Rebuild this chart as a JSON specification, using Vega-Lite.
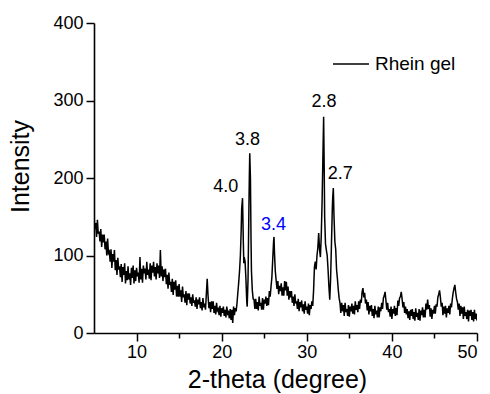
{
  "$schema": "https://vega.github.io/schema/vega-lite/v6.json",
  "width": 383,
  "height": 310,
  "autosize": {"type": "none"},
  "padding": {"left": 94, "top": 23, "right": 13, "bottom": 61},
  "background": "white",
  "config": {
    "view": {"stroke": null},
    "font": "Liberation Sans",
    "axis": {"grid": false, "domainColor": "black", "domainWidth": 1.6, "tickColor": "black", "tickWidth": 1.5, "labelColor": "black", "titleColor": "black", "labelFont": "Liberation Sans", "titleFont": "Liberation Sans", "labelFontSize": 18, "titleFontSize": 25, "titleFontWeight": "normal"}
  },
  "datasets": {
    "xrd": [
      {"t":5.0,"i":152},{"t":5.1,"i":134},{"t":5.2,"i":142},{"t":5.3,"i":124},{"t":5.4,"i":146},{"t":5.5,"i":128},{"t":5.6,"i":131},{"t":5.7,"i":118},{"t":5.8,"i":134},{"t":5.9,"i":111},
      {"t":6.0,"i":127},{"t":6.1,"i":117},{"t":6.2,"i":127},{"t":6.3,"i":108},{"t":6.4,"i":118},{"t":6.5,"i":100},{"t":6.6,"i":122},{"t":6.7,"i":103},{"t":6.8,"i":105},{"t":6.9,"i":92},
      {"t":7.0,"i":108},{"t":7.1,"i":84},{"t":7.2,"i":102},{"t":7.3,"i":92},{"t":7.4,"i":107},{"t":7.5,"i":81},{"t":7.6,"i":94},{"t":7.7,"i":75},{"t":7.8,"i":97},{"t":7.9,"i":82},
      {"t":8.0,"i":86},{"t":8.1,"i":72},{"t":8.2,"i":89},{"t":8.3,"i":66},{"t":8.4,"i":85},{"t":8.5,"i":75},{"t":8.6,"i":90},{"t":8.7,"i":64},{"t":8.8,"i":80},{"t":8.9,"i":68},
      {"t":9.0,"i":86},{"t":9.1,"i":69},{"t":9.2,"i":77},{"t":9.3,"i":62},{"t":9.4,"i":84},{"t":9.5,"i":71},{"t":9.6,"i":87},{"t":9.7,"i":64},{"t":9.8,"i":81},{"t":9.9,"i":67},
      {"t":10.0,"i":84},{"t":10.1,"i":73},{"t":10.2,"i":78},{"t":10.3,"i":65},{"t":10.4,"i":98},{"t":10.5,"i":69},{"t":10.6,"i":83},{"t":10.7,"i":65},{"t":10.8,"i":87},{"t":10.9,"i":77},
      {"t":11.0,"i":83},{"t":11.1,"i":69},{"t":11.2,"i":92},{"t":11.3,"i":75},{"t":11.4,"i":82},{"t":11.5,"i":70},{"t":11.6,"i":90},{"t":11.7,"i":68},{"t":11.8,"i":87},{"t":11.9,"i":78},
      {"t":12.0,"i":92},{"t":12.1,"i":73},{"t":12.2,"i":85},{"t":12.3,"i":69},{"t":12.4,"i":90},{"t":12.5,"i":77},{"t":12.6,"i":87},{"t":12.7,"i":71},{"t":12.8,"i":107},{"t":12.9,"i":73},
      {"t":13.0,"i":86},{"t":13.1,"i":67},{"t":13.2,"i":82},{"t":13.3,"i":72},{"t":13.4,"i":83},{"t":13.5,"i":63},{"t":13.6,"i":75},{"t":13.7,"i":57},{"t":13.8,"i":78},{"t":13.9,"i":62},
      {"t":14.0,"i":66},{"t":14.1,"i":53},{"t":14.2,"i":70},{"t":14.3,"i":49},{"t":14.4,"i":66},{"t":14.5,"i":56},{"t":14.6,"i":68},{"t":14.7,"i":47},{"t":14.8,"i":61},{"t":14.9,"i":47},
      {"t":15.0,"i":63},{"t":15.1,"i":47},{"t":15.2,"i":55},{"t":15.3,"i":40},{"t":15.4,"i":60},{"t":15.5,"i":46},{"t":15.6,"i":50},{"t":15.7,"i":39},{"t":15.8,"i":54},{"t":15.9,"i":36},
      {"t":16.0,"i":51},{"t":16.1,"i":43},{"t":16.2,"i":51},{"t":16.3,"i":38},{"t":16.4,"i":46},{"t":16.5,"i":35},{"t":16.6,"i":50},{"t":16.7,"i":39},{"t":16.8,"i":42},{"t":16.9,"i":34},
      {"t":17.0,"i":46},{"t":17.1,"i":31},{"t":17.2,"i":43},{"t":17.3,"i":37},{"t":17.4,"i":46},{"t":17.5,"i":32},{"t":17.6,"i":40},{"t":17.7,"i":29},{"t":17.8,"i":45},{"t":17.9,"i":33},
      {"t":18.0,"i":38},{"t":18.1,"i":30},{"t":18.2,"i":50},{"t":18.3,"i":70},{"t":18.4,"i":48},{"t":18.5,"i":32},{"t":18.6,"i":40},{"t":18.7,"i":27},{"t":18.8,"i":41},{"t":18.9,"i":31},
      {"t":19.0,"i":41},{"t":19.1,"i":26},{"t":19.2,"i":35},{"t":19.3,"i":24},{"t":19.4,"i":39},{"t":19.5,"i":29},{"t":19.6,"i":31},{"t":19.7,"i":23},{"t":19.8,"i":35},{"t":19.9,"i":21},
      {"t":20.0,"i":32},{"t":20.1,"i":26},{"t":20.2,"i":34},{"t":20.3,"i":22},{"t":20.4,"i":30},{"t":20.5,"i":20},{"t":20.6,"i":34},{"t":20.7,"i":25},{"t":20.8,"i":27},{"t":20.9,"i":19},
      {"t":21.0,"i":31},{"t":21.1,"i":17},{"t":21.2,"i":30},{"t":21.3,"i":13},{"t":21.4,"i":34},{"t":21.5,"i":23},{"t":21.6,"i":32},{"t":21.7,"i":28},{"t":21.8,"i":38},{"t":21.9,"i":52},
      {"t":22.0,"i":65},{"t":22.1,"i":80},{"t":22.2,"i":100},{"t":22.3,"i":135},{"t":22.35,"i":160},{"t":22.45,"i":174},{"t":22.55,"i":115},{"t":22.6,"i":90},{"t":22.65,"i":98},{"t":22.75,"i":92},
      {"t":22.85,"i":70},{"t":22.95,"i":40},{"t":23.0,"i":34},{"t":23.1,"i":70},{"t":23.2,"i":160},{"t":23.25,"i":200},{"t":23.3,"i":232},{"t":23.38,"i":200},{"t":23.45,"i":120},{"t":23.5,"i":80},
      {"t":23.6,"i":55},{"t":23.7,"i":44},{"t":23.8,"i":43},{"t":23.9,"i":31},{"t":24.0,"i":44},{"t":24.1,"i":31},{"t":24.2,"i":40},{"t":24.3,"i":29},{"t":24.4,"i":47},{"t":24.5,"i":35},
      {"t":24.6,"i":39},{"t":24.7,"i":30},{"t":24.8,"i":45},{"t":24.9,"i":30},{"t":25.0,"i":43},{"t":25.1,"i":38},{"t":25.2,"i":47},{"t":25.3,"i":35},{"t":25.4,"i":45},{"t":25.5,"i":36},
      {"t":25.6,"i":54},{"t":25.7,"i":47},{"t":25.8,"i":60},{"t":25.9,"i":72},{"t":26.0,"i":95},{"t":26.1,"i":118},{"t":26.15,"i":124},{"t":26.2,"i":105},{"t":26.3,"i":80},{"t":26.4,"i":68},
      {"t":26.5,"i":57},{"t":26.6,"i":67},{"t":26.7,"i":50},{"t":26.8,"i":61},{"t":26.9,"i":54},{"t":27.0,"i":64},{"t":27.1,"i":48},{"t":27.2,"i":59},{"t":27.3,"i":48},{"t":27.4,"i":67},
      {"t":27.5,"i":55},{"t":27.6,"i":66},{"t":27.7,"i":48},{"t":27.8,"i":60},{"t":27.9,"i":43},{"t":28.0,"i":54},{"t":28.1,"i":46},{"t":28.2,"i":54},{"t":28.3,"i":39},{"t":28.4,"i":47},
      {"t":28.5,"i":35},{"t":28.6,"i":50},{"t":28.7,"i":38},{"t":28.8,"i":41},{"t":28.9,"i":31},{"t":29.0,"i":44},{"t":29.1,"i":28},{"t":29.2,"i":40},{"t":29.3,"i":33},{"t":29.4,"i":42},
      {"t":29.5,"i":28},{"t":29.6,"i":37},{"t":29.7,"i":25},{"t":29.8,"i":41},{"t":29.9,"i":30},{"t":30.0,"i":34},{"t":30.1,"i":25},{"t":30.2,"i":38},{"t":30.3,"i":23},{"t":30.4,"i":36},
      {"t":30.5,"i":31},{"t":30.6,"i":41},{"t":30.7,"i":35},{"t":30.8,"i":55},{"t":30.9,"i":85},{"t":31.0,"i":92},{"t":31.1,"i":82},{"t":31.2,"i":100},{"t":31.3,"i":110},{"t":31.4,"i":129},
      {"t":31.5,"i":108},{"t":31.6,"i":98},{"t":31.7,"i":125},{"t":31.8,"i":170},{"t":31.9,"i":230},{"t":31.98,"i":279},{"t":32.05,"i":210},{"t":32.1,"i":150},{"t":32.2,"i":115},{"t":32.3,"i":107},
      {"t":32.4,"i":100},{"t":32.5,"i":82},{"t":32.6,"i":60},{"t":32.7,"i":43},{"t":32.8,"i":70},{"t":32.9,"i":115},{"t":33.0,"i":160},{"t":33.05,"i":175},{"t":33.12,"i":187},{"t":33.2,"i":150},
      {"t":33.3,"i":118},{"t":33.4,"i":108},{"t":33.5,"i":82},{"t":33.6,"i":70},{"t":33.7,"i":56},{"t":33.8,"i":45},{"t":33.9,"i":39},{"t":34.0,"i":26},{"t":34.1,"i":39},{"t":34.2,"i":28},
      {"t":34.3,"i":36},{"t":34.4,"i":22},{"t":34.5,"i":39},{"t":34.6,"i":27},{"t":34.7,"i":31},{"t":34.8,"i":22},{"t":34.9,"i":36},{"t":35.0,"i":21},{"t":35.1,"i":34},{"t":35.2,"i":28},
      {"t":35.3,"i":38},{"t":35.4,"i":25},{"t":35.5,"i":35},{"t":35.6,"i":24},{"t":35.7,"i":41},{"t":35.8,"i":30},{"t":35.9,"i":36},{"t":36.0,"i":27},{"t":36.1,"i":41},{"t":36.2,"i":31},
      {"t":36.3,"i":43},{"t":36.4,"i":39},{"t":36.5,"i":53},{"t":36.6,"i":58},{"t":36.7,"i":46},{"t":36.8,"i":52},{"t":36.9,"i":38},{"t":37.0,"i":43},{"t":37.1,"i":29},{"t":37.2,"i":40},
      {"t":37.3,"i":24},{"t":37.4,"i":35},{"t":37.5,"i":28},{"t":37.6,"i":36},{"t":37.7,"i":22},{"t":37.8,"i":31},{"t":37.9,"i":19},{"t":38.0,"i":35},{"t":38.1,"i":24},{"t":38.2,"i":29},
      {"t":38.3,"i":20},{"t":38.4,"i":34},{"t":38.5,"i":20},{"t":38.6,"i":33},{"t":38.7,"i":28},{"t":38.8,"i":39},{"t":38.9,"i":31},{"t":39.0,"i":45},{"t":39.1,"i":48},{"t":39.2,"i":53},
      {"t":39.3,"i":42},{"t":39.4,"i":30},{"t":39.5,"i":39},{"t":39.6,"i":27},{"t":39.7,"i":31},{"t":39.8,"i":21},{"t":39.9,"i":34},{"t":40.0,"i":18},{"t":40.1,"i":31},{"t":40.2,"i":25},
      {"t":40.3,"i":35},{"t":40.4,"i":22},{"t":40.5,"i":32},{"t":40.6,"i":23},{"t":40.7,"i":42},{"t":40.8,"i":35},{"t":40.9,"i":45},{"t":41.0,"i":47},{"t":41.1,"i":53},{"t":41.2,"i":44},
      {"t":41.3,"i":33},{"t":41.4,"i":40},{"t":41.5,"i":26},{"t":41.6,"i":34},{"t":41.7,"i":24},{"t":41.8,"i":31},{"t":41.9,"i":19},{"t":42.0,"i":28},{"t":42.1,"i":17},{"t":42.2,"i":30},
      {"t":42.3,"i":22},{"t":42.4,"i":31},{"t":42.5,"i":18},{"t":42.6,"i":27},{"t":42.7,"i":16},{"t":42.8,"i":32},{"t":42.9,"i":21},{"t":43.0,"i":26},{"t":43.1,"i":17},{"t":43.2,"i":31},
      {"t":43.3,"i":16},{"t":43.4,"i":29},{"t":43.5,"i":23},{"t":43.6,"i":33},{"t":43.7,"i":20},{"t":43.8,"i":30},{"t":43.9,"i":20},{"t":44.0,"i":38},{"t":44.1,"i":30},{"t":44.2,"i":43},
      {"t":44.3,"i":31},{"t":44.4,"i":36},{"t":44.5,"i":21},{"t":44.6,"i":32},{"t":44.7,"i":18},{"t":44.8,"i":30},{"t":44.9,"i":25},{"t":45.0,"i":35},{"t":45.1,"i":25},{"t":45.2,"i":37},
      {"t":45.3,"i":34},{"t":45.4,"i":46},{"t":45.5,"i":50},{"t":45.6,"i":55},{"t":45.7,"i":46},{"t":45.8,"i":34},{"t":45.9,"i":39},{"t":46.0,"i":23},{"t":46.1,"i":34},{"t":46.2,"i":25},
      {"t":46.3,"i":35},{"t":46.4,"i":20},{"t":46.5,"i":32},{"t":46.6,"i":26},{"t":46.7,"i":35},{"t":46.8,"i":24},{"t":46.9,"i":38},{"t":47.0,"i":33},{"t":47.1,"i":44},{"t":47.2,"i":52},
      {"t":47.3,"i":58},{"t":47.4,"i":62},{"t":47.5,"i":52},{"t":47.6,"i":44},{"t":47.7,"i":40},{"t":47.8,"i":30},{"t":47.9,"i":38},{"t":48.0,"i":22},{"t":48.1,"i":35},{"t":48.2,"i":25},
      {"t":48.3,"i":33},{"t":48.4,"i":18},{"t":48.5,"i":34},{"t":48.6,"i":22},{"t":48.7,"i":27},{"t":48.8,"i":18},{"t":48.9,"i":30},{"t":49.0,"i":15},{"t":49.1,"i":29},{"t":49.2,"i":22},
      {"t":49.3,"i":30},{"t":49.4,"i":17},{"t":49.5,"i":27},{"t":49.6,"i":15},{"t":49.7,"i":30},{"t":49.8,"i":18},{"t":49.9,"i":25},{"t":50.0,"i":16}
    ],
    "labels": [
      {"t":20.48,"i":189,"label":"4.0","c":"black"},
      {"t":23.03,"i":249,"label":"3.8","c":"black"},
      {"t":26.1,"i":139,"label":"3.4","c":"blue"},
      {"t":32.02,"i":298,"label":"2.8","c":"black"},
      {"t":33.94,"i":205,"label":"2.7","c":"black"}
    ]
  },
  "layer": [
    {
      "data": {"name": "xrd"},
      "mark": {"type": "line", "strokeWidth": 1.5, "clip": true},
      "encoding": {
        "x": {"field": "t", "type": "quantitative", "scale": {"domain": [5, 50], "nice": false},
          "axis": {"title": "2-theta (degree)", "values": [10,15,20,25,30,35,40,45,50], "labelExpr": "datum.value % 10 === 0 ? datum.label : ''",
            "tickSize": {"condition": {"test": "datum.value % 10 === 0", "value": 8}, "value": 5}, "labelPadding": 2, "titleX": 183, "titleY": 54, "titleAlign": "center", "titleAnchor": "start", "titleBaseline": "alphabetic"}},
        "y": {"field": "i", "type": "quantitative", "scale": {"domain": [0, 400], "nice": false},
          "axis": {"title": "Intensity", "values": [0,50,100,150,200,250,300,350,400], "labelExpr": "datum.value % 100 === 0 ? datum.label : ''",
            "tickSize": {"condition": {"test": "datum.value % 100 === 0", "value": 8}, "value": 5}, "labelPadding": 3, "titleX": -61, "titleY": 143, "titleAlign": "center", "titleAnchor": "start"}},
        "color": {"datum": "Rhein gel", "type": "nominal", "scale": {"range": ["black"]},
          "legend": {"title": null, "orient": "none", "legendX": 238, "legendY": 22, "symbolType": "stroke", "symbolSize": 1296, "symbolStrokeWidth": 1.6, "labelFontSize": 19, "labelFont": "Liberation Sans", "labelColor": "black", "labelOffset": 5}}
      }
    },
    {
      "data": {"name": "labels"},
      "mark": {"type": "text", "fontSize": 18, "font": "Liberation Sans", "align": "center", "baseline": "middle"},
      "encoding": {
        "x": {"field": "t", "type": "quantitative"},
        "y": {"field": "i", "type": "quantitative"},
        "text": {"field": "label"},
        "color": {"field": "c", "type": "nominal", "scale": null, "legend": null}
      }
    }
  ],
  "resolve": {"scale": {"color": "independent"}}
}
